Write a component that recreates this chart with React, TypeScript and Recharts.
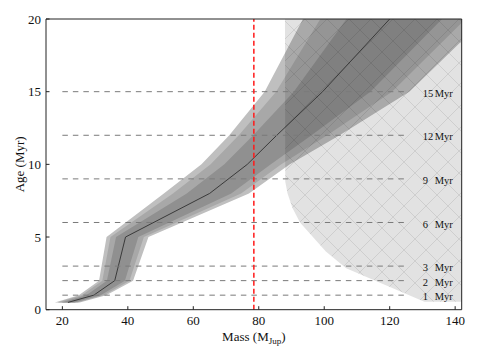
import React from 'react';
import { ComposedChart, Area, Line, XAxis, YAxis, ReferenceLine } from 'recharts';

// Ages (Myr) at which the mass bands are tabulated
const ages = [0.5, 1, 2, 5, 8, 10, 12, 15, 20];
// Central mass track (M_Jup)
const centreMass = [21.7, 29.6, 36, 39.3, 65, 76.5, 85.5, 99.5, 120];
// Outer (lightest) band
const outerLo = [17.7, 25, 31.2, 33.5, 51, 62.5, 71, 81.8, 93.5];
const outerHi = [25.3, 33.4, 41.6, 46.3, 77, 89.5, 104.7, 126, 149];
// Middle band
const midLo = [18.5, 25.9, 32.2, 34.7, 53.8, 65.3, 73.9, 85.3, 98.8];
const midHi = [24.6, 32.6, 40.5, 44.9, 74.6, 86.9, 100.9, 120.7, 143.2];
// Inner (darkest) band
const innerLo = [19.7, 27.3, 33.6, 36.4, 58, 69.5, 78.3, 90.7, 106.8];
const innerHi = [23.7, 31.7, 39.1, 43.2, 71.6, 83.7, 96.1, 114.1, 136];

// Excluded (hatched) region
const excludedAges = [0.55, 2.85, 4, 5.14, 6, 7, 8, 8.8, 20];
const excludedLo = [130.6, 106.7, 100.5, 96, 92.6, 90.3, 88.8, 88.1, 88];
const excludedHi = [150, 150, 150, 150, 150, 150, 150, 150, 150];

// Isochrone reference lines
const isoAges = [1, 2, 3, 6, 9, 12, 15];
const isoNumbers = ['1', '2', '3', '6', '9', '12', '15'];
const isoFromMass = 20;
const isoToMass = 125;

const limitMass = 78.5;
const massTicks = [20, 40, 60, 80, 100, 120, 140];
const ageTicks = [0, 5, 10, 15, 20];
const massDomain = [15, 142];
const ageDomain = [0, 20];

const bandData = ages.map((age, i) => ({
  age,
  outer: [outerLo[i], outerHi[i]],
  mid: [midLo[i], midHi[i]],
  inner: [innerLo[i], innerHi[i]],
  centre: centreMass[i],
}));

const excludedData = excludedAges.map((age, i) => ({
  age,
  region: [excludedLo[i], excludedHi[i]],
}));

const FONT = '"Liberation Serif", "Times New Roman", serif';

const IsoLabel = (num: string) => (props: any) => {
  const vb = props.viewBox || {};
  const xEnd = (vb.x ?? 0) + (vb.width ?? 0);
  const y = (vb.y ?? 0) + 1.5;
  return (
    <text x={xEnd + 16.6} y={y} dy="0.35em" fontSize={10.5} fontFamily={FONT} fill="#111">
      <tspan>{num}</tspan>
      <tspan x={xEnd + 26}>{' Myr'}</tspan>
    </text>
  );
};

const XTitle = (props: any) => {
  const vb = props.viewBox || {};
  const cx = (vb.x ?? 0) + (vb.width ?? 0) / 2;
  const y = (vb.y ?? 0) + 31;
  return (
    <text x={cx} y={y} textAnchor="middle" fontSize={13} fontFamily={FONT} fill="#111">
      Mass (M<tspan dy={3} fontSize={9}>Jup</tspan><tspan dy={-3}>)</tspan>
    </text>
  );
};

const YTitle = (props: any) => {
  const vb = props.viewBox || {};
  const cx = (vb.x ?? 0) + 3;
  const cy = (vb.y ?? 0) + (vb.height ?? 0) / 2;
  return (
    <text
      x={cx}
      y={cy}
      dy="0.35em"
      textAnchor="middle"
      transform={`rotate(-90, ${cx}, ${cy})`}
      fontSize={13}
      fontFamily={FONT}
      fill="#111"
    >
      Age (Myr)
    </text>
  );
};

export default function App() {
  const tickStyle = { fill: '#111', fontSize: 13, fontFamily: FONT };
  return (
    <div style={{ position: 'relative', width: 471, height: 351 }}>
      <svg width={0} height={0} style={{ position: 'absolute' }}>
        <defs>
          <pattern id="xhatch" patternUnits="userSpaceOnUse" width={22} height={22}>
            <rect x={0} y={0} width={22} height={22} fill="rgba(0,0,0,0.115)" />
            <path d="M0,0L22,22M22,0L0,22" stroke="rgba(0,0,0,0.09)" strokeWidth={1} fill="none" />
          </pattern>
        </defs>
      </svg>
      <ComposedChart
        layout="vertical"
        width={471}
        height={351}
        margin={{ top: 10, right: 16.3, bottom: 9.3, left: 8 }}
      >
        <XAxis
          type="number"
          domain={massDomain}
          ticks={massTicks}
          allowDataOverflow
          height={40}
          tickSize={-3.5}
          tickMargin={10}
          stroke="#222"
          tick={tickStyle}
          label={{ content: XTitle }}
        />
        <XAxis
          xAxisId="top"
          orientation="top"
          type="number"
          domain={massDomain}
          ticks={massTicks}
          allowDataOverflow
          height={1}
          tickSize={-3.5}
          tick={false}
          stroke="#222"
        />
        <YAxis
          type="number"
          dataKey="age"
          domain={ageDomain}
          ticks={ageTicks}
          allowDataOverflow
          reversed
          width={30}
          tickSize={-3.5}
          tickMargin={8.5}
          stroke="#222"
          tick={tickStyle}
          label={{ content: YTitle }}
        />
        <YAxis
          yAxisId="right"
          orientation="right"
          type="number"
          domain={ageDomain}
          ticks={ageTicks}
          allowDataOverflow
          reversed
          width={1}
          tickSize={-3.5}
          tick={false}
          stroke="#222"
        />
        <Area data={bandData} dataKey="outer" type="linear" stroke="none" fill="#bfbfbf" fillOpacity={1} isAnimationActive={false} dot={false} activeDot={false} />
        <Area data={bandData} dataKey="mid" type="linear" stroke="none" fill="#a8a8a8" fillOpacity={1} isAnimationActive={false} dot={false} activeDot={false} />
        <Area data={bandData} dataKey="inner" type="linear" stroke="none" fill="#909090" fillOpacity={1} isAnimationActive={false} dot={false} activeDot={false} />
        <Area data={excludedData} dataKey="region" type="linear" stroke="none" fill="url(#xhatch)" fillOpacity={1} isAnimationActive={false} dot={false} activeDot={false} />
        <Line data={bandData} dataKey="centre" type="linear" stroke="#3a3a3a" strokeWidth={1} dot={false} activeDot={false} isAnimationActive={false} />
        {isoAges.map((a, i) => (
          <ReferenceLine
            key={a}
            segment={[{ x: isoFromMass, y: a }, { x: isoToMass, y: a }]}
            stroke="#7a7a7a"
            strokeWidth={1}
            strokeDasharray="5.5 5"
            label={IsoLabel(isoNumbers[i])}
          />
        ))}
        <ReferenceLine x={limitMass} stroke="#ff1a1a" strokeWidth={1.5} strokeDasharray="5 3" />
      </ComposedChart>
    </div>
  );
}
